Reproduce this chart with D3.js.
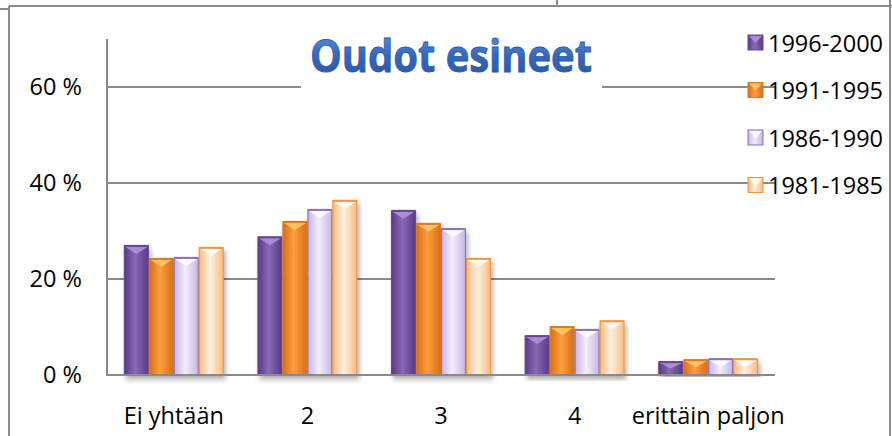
<!DOCTYPE html>
<html lang="fi">
<head>
<meta charset="UTF-8" />
<title>Oudot esineet</title>
<script src="https://d3js.org/d3.v7.min.js"></script>
<style>
  body { margin: 0; background: #fff; }
  svg { display: block; font-family: "Open Sans", "Noto Sans", sans-serif; }
</style>
</head>
<body>
<div id="chart"></div>
<script>
const categories = ['Ei yhtään', '2', '3', '4', 'erittäin paljon'];
const series = ['1996-2000', '1991-1995', '1986-1990', '1981-1985'];
const values = {
  '1996-2000': [26.9, 28.7, 34.2, 8.1, 2.7],
  '1991-1995': [24.2, 31.9, 31.5, 10.0, 3.1],
  '1986-1990': [24.4, 34.4, 30.4, 9.4, 3.3],
  '1981-1985': [26.5, 36.3, 24.2, 11.2, 3.3]
};
const yTicks = [0, 20, 40, 60];

const width = 892, height = 436;
const plot = { left: 107, right: 775, top: 39, bottom: 375 };
const fontSize = 23.5;

// bar styling per series: edge, middle, outline
const looks = {
  '1996-2000': { edge: '#583a82', mid: '#8a68b8', line: '#664894', cap: '#b293dc' },
  '1991-1995': { edge: '#d66e18', mid: '#ff9e3c', line: '#e07a20', cap: '#ffc86a' },
  '1986-1990': { edge: '#c6b6e2', mid: '#f3eefb', line: '#8c70b8', cap: '#ffffff' },
  '1981-1985': { edge: '#f6bc86', mid: '#fff0df', line: '#f2953e', cap: '#ffffff' }
};

const svg = d3.select('#chart').append('svg')
  .attr('width', width).attr('height', height);

const defs = svg.append('defs');
series.forEach((s, i) => {
  const g = defs.append('linearGradient').attr('id', 'bar' + i)
    .attr('x1', 0).attr('x2', 1).attr('y1', 0).attr('y2', 0);
  g.append('stop').attr('offset', '0%').attr('stop-color', looks[s].edge);
  g.append('stop').attr('offset', '45%').attr('stop-color', looks[s].mid);
  g.append('stop').attr('offset', '100%').attr('stop-color', looks[s].edge);
});
const tg = defs.append('linearGradient').attr('id', 'titleGrad')
  .attr('x1', 0).attr('x2', 0).attr('y1', 0).attr('y2', 1);
tg.append('stop').attr('offset', '0%').attr('stop-color', '#6f9de2');
tg.append('stop').attr('offset', '50%').attr('stop-color', '#3568be');
tg.append('stop').attr('offset', '100%').attr('stop-color', '#2553a4');
const sh = defs.append('filter').attr('id', 'shadow')
  .attr('x', '-20%').attr('y', '-5%').attr('width', '140%').attr('height', '115%');
sh.append('feDropShadow').attr('dx', 2).attr('dy', 4).attr('stdDeviation', 2.5)
  .attr('flood-color', '#000').attr('flood-opacity', 0.3);

// outer frame (sheet borders)
const frame = svg.append('g').attr('stroke', '#8c8c8c').attr('fill', 'none');
frame.append('line').attr('x1', 9).attr('x2', width).attr('y1', 6).attr('y2', 6).attr('stroke-width', 2);
frame.append('line').attr('x1', 9).attr('x2', 9).attr('y1', 6).attr('y2', height).attr('stroke-width', 2);
frame.append('line').attr('x1', 0).attr('x2', 9).attr('y1', 9).attr('y2', 9).attr('stroke-width', 2);
frame.append('line').attr('x1', 890).attr('x2', 890).attr('y1', 0).attr('y2', height).attr('stroke-width', 2);
frame.append('line').attr('x1', 557).attr('x2', 557).attr('y1', 0).attr('y2', 6).attr('stroke-width', 2);

const x0 = d3.scaleBand().domain(categories)
  .range([plot.left, plot.right]).paddingInner(0.26).paddingOuter(0.13);
const x1 = d3.scaleBand().domain(series)
  .range([0, x0.bandwidth()]).paddingInner(0.04);
const y = d3.scaleLinear().domain([0, 70]).range([plot.bottom, plot.bottom - 70 * 4.8]);

// gridlines
svg.append('g').selectAll('line').data(yTicks.filter(t => t > 0)).join('line')
  .attr('x1', plot.left).attr('x2', plot.right)
  .attr('y1', d => y(d)).attr('y2', d => y(d))
  .attr('stroke', '#8a8a8a').attr('stroke-width', 2);

// y tick labels
svg.append('g').selectAll('text').data(yTicks).join('text')
  .attr('x', 82).attr('y', d => y(d) + 8)
  .attr('text-anchor', 'end').attr('font-size', fontSize).attr('fill', '#000')
  .text(d => d + ' %');

// bars
const groups = svg.append('g').selectAll('g').data(categories).join('g')
  .attr('transform', d => `translate(${x0(d)},0)`)
  .attr('filter', 'url(#shadow)');

groups.selectAll('g').data((c, ci) => series.map((s, si) => ({ s, si, v: values[s][ci] })))
  .join('g')
  .each(function (d) {
    const g = d3.select(this);
    const bx = x1(d.s), bw = x1.bandwidth();
    const top = y(d.v), bh = plot.bottom - top;
    g.append('rect')
      .attr('x', bx).attr('y', top).attr('width', bw).attr('height', bh)
      .attr('fill', `url(#bar${d.si})`)
      .attr('stroke', looks[d.s].line).attr('stroke-width', 1.2);
    const ch = Math.min(8, bh * 0.5);
    g.append('path')
      .attr('d', `M${bx + 1},${top + 1}L${bx + bw - 1},${top + 1}L${bx + bw / 2},${top + ch}Z`)
      .attr('fill', looks[d.s].cap).attr('opacity', 0.85);
    g.append('line')
      .attr('x1', bx).attr('x2', bx + bw).attr('y1', top).attr('y2', top)
      .attr('stroke', looks[d.s].line).attr('stroke-width', 2);
  });

// axes lines
svg.append('line').attr('x1', plot.left).attr('x2', plot.left)
  .attr('y1', plot.top).attr('y2', plot.bottom)
  .attr('stroke', '#8a8a8a').attr('stroke-width', 2);
svg.append('line').attr('x1', plot.left - 1).attr('x2', plot.right)
  .attr('y1', plot.bottom).attr('y2', plot.bottom)
  .attr('stroke', '#8a8a8a').attr('stroke-width', 2);

// category labels
svg.append('g').selectAll('text').data(categories).join('text')
  .attr('x', d => x0(d) + x0.bandwidth() / 2).attr('y', 424)
  .attr('text-anchor', 'middle').attr('font-size', fontSize).attr('fill', '#000')
  .text(d => d);

// title with white box behind
svg.append('rect').attr('x', 301).attr('y', 30).attr('width', 301).attr('height', 62).attr('fill', '#fff');
svg.append('text')
  .attr('x', 451).attr('y', 72).attr('text-anchor', 'middle')
  .attr('font-size', 44).attr('font-weight', 700)
  .attr('textLength', 282).attr('lengthAdjust', 'spacingAndGlyphs')
  .attr('fill', 'url(#titleGrad)').attr('stroke', '#2b5aa6').attr('stroke-width', 0.8)
  .text('Oudot esineet');

// legend
const legend = svg.append('g').selectAll('g').data(series).join('g')
  .attr('transform', (d, i) => `translate(748,${43 + i * 47.5})`);
legend.append('rect')
  .attr('x', 0).attr('y', -8).attr('width', 15).attr('height', 15)
  .attr('fill', (d, i) => `url(#bar${i})`)
  .attr('stroke', d => looks[d].line).attr('stroke-width', 1);
legend.append('path')
  .attr('d', 'M1,-7L14,-7L7.5,0Z')
  .attr('fill', d => looks[d].cap).attr('opacity', 0.8);
legend.append('text')
  .attr('x', 20).attr('y', 8.5).attr('font-size', fontSize).attr('fill', '#000')
  .text(d => d);
</script>
</body>
</html>
